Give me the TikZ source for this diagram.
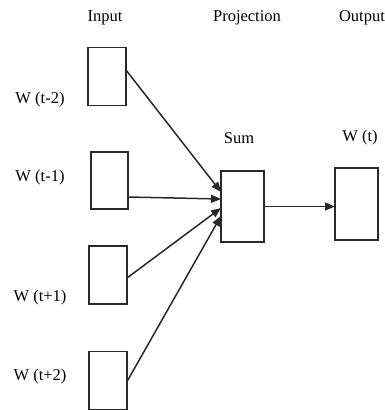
\documentclass[tikz,border=0pt]{standalone}
\usepackage{fontspec}
\setmainfont{Liberation Serif}
\usetikzlibrary{arrows.meta}
\definecolor{ln}{RGB}{40,40,40}
\begin{document}
\begin{tikzpicture}[x=1pt,y=-1pt,
  box/.style={draw=ln,line width=1.6pt,minimum width=38pt,minimum height=58pt,inner sep=0pt,outer sep=0pt},
  lab/.style={font=\fontsize{16.5}{18}\selectfont,inner sep=0pt,text=black},
  conn/.style={draw=ln,line width=1.5pt,-{Triangle[length=10pt,width=8pt]}}]
\useasboundingbox (0,0) rectangle (385,410);
\node[box] (b1) at (107,76.5) {};
\node[box,minimum width=37pt,minimum height=57pt] (b2) at (109.5,180.5) {};
\node[box] (b3) at (108,275) {};
\node[box] (b4) at (108,380.5) {};
\node[box,minimum width=43pt,minimum height=71pt] (sum) at (242.5,206.5) {};
\node[box,minimum width=43pt,minimum height=72pt] (out) at (356.5,204) {};
\node[lab] (tin) at (105,18) {Input};
\node[lab] (tproj) at (247,18) {Projection};
\node[lab] (tout) at (362,18) {Output};
\node[lab] (tsum) at (239,138) {Sum};
\node[lab] (twt) at (360,138) {W (t)};
\node[lab] (l1) at (40,100) {W (t-2)};
\node[lab] (l2) at (40,178) {W (t-1)};
\node[lab] (l3) at (40,298) {W (t+1)};
\node[lab] (l4) at (40,377) {W (t+2)};
\draw[conn] ([yshift=6.5pt]b1.east) -- ([yshift=14.5pt]sum.west);
\draw[conn] ([yshift=-16.5pt]b2.east) -- ([yshift=7.5pt]sum.west);
\draw[conn] ([yshift=-3pt]b3.east) -- ([yshift=-1.5pt]sum.west);
\draw[conn] ([yshift=-1pt]b4.east) -- ([yshift=-9.5pt]sum.west);
\draw[conn] (sum.east) -- (sum.east -| out.west);
\end{tikzpicture}
\end{document}
